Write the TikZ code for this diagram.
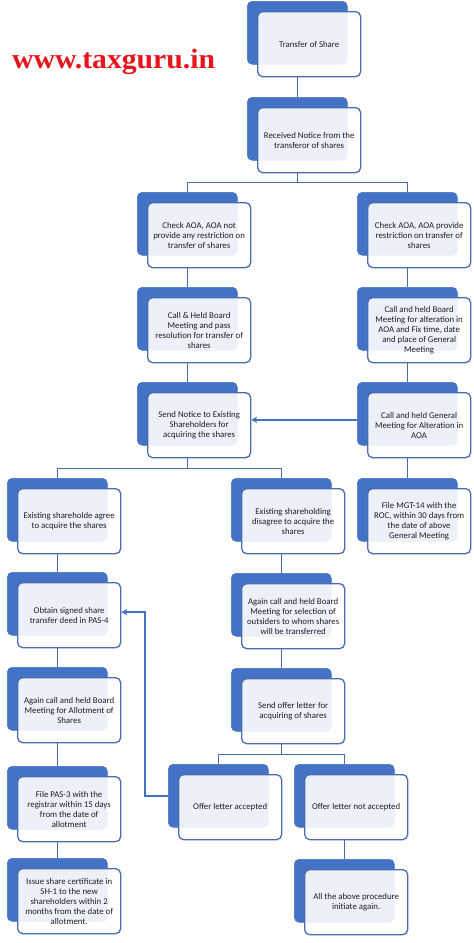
\documentclass[tikz,border=0pt]{standalone}
\usepackage{fontspec}
\setmainfont{Carlito}
\newfontfamily\wmfont{Liberation Serif}
\usetikzlibrary{arrows.meta,calc}
\definecolor{acc}{HTML}{4472C4}
\definecolor{accd}{HTML}{4A6DB0}
\definecolor{wmred}{HTML}{E8141C}
\definecolor{txt}{HTML}{1E1E1E}
\tikzset{
  backbox/.style={fill=acc, draw=acc, line width=0.6pt, rounded corners=5pt, minimum width=100pt, minimum height=63pt, inner sep=0pt, anchor=north west},
  frontbox/.style={fill=white, fill opacity=0.9, text opacity=1, draw=accd, line width=1.3pt, rounded corners=5pt, minimum width=103pt, minimum height=65pt, inner sep=0pt, anchor=north west, align=center, font=\fontsize{8.8}{10}\selectfont, text=txt},
  conn/.style={draw=accd, line width=1.4pt},
  arr/.style={draw=acc, line width=2.2pt, -{Stealth[length=6pt,width=6.5pt]}}
}
\newcommand{\stepnode}[4]{%
  \node[backbox] (#1b) at (#2,#3) {};
  \node[frontbox] (#1) at ($(#2,#3)+(10,10)$) {#4};
}
\begin{document}
\begin{tikzpicture}[x=1pt,y=-1pt]
\useasboundingbox (0,0) rectangle (474,943);

\node[anchor=base west, inner sep=0pt, text=wmred, font=\wmfont\bfseries\fontsize{28}{30}\selectfont, xscale=1.06] (wm) at (12,68) {www.taxguru.in};

\stepnode{na}{247}{1}{Transfer of Share}
\stepnode{nb}{247}{97}{Received Notice from the\\transferor of shares}
\stepnode{la}{137}{192}{Check AOA, AOA not\\provide any restriction on\\transfer of shares}
\stepnode{ra}{357}{192}{Check AOA, AOA provide\\restriction on transfer of\\shares}
\stepnode{lb}{137}{287}{Call \& Held Board\\Meeting and pass\\resolution for transfer of\\shares}
\stepnode{rb}{357}{287}{Call and held Board\\Meeting for alteration in\\AOA and Fix time, date\\and place of General\\Meeting}
\stepnode{lc}{137}{382}{Send Notice to Existing\\Shareholders for\\acquiring the shares}
\stepnode{rc}{357}{382}{Call and held General\\Meeting for Alteration in\\AOA}
\stepnode{ka}{7}{478}{Existing shareholde agree\\to acquire the shares}
\stepnode{ma}{231}{478}{Existing shareholding\\disagree to acquire the\\shares}
\stepnode{rd}{357}{478}{File MGT-14 with the\\ROC, within 30 days from\\the date of above\\General Meeting}
\stepnode{kb}{7}{572}{Obtain signed share\\transfer deed in PAS-4}
\stepnode{mb}{231}{573}{Again call and held Board\\Meeting for selection of\\outsiders to whom shares\\will be transferred}
\stepnode{kc}{7}{667}{Again call and held Board\\Meeting for Allotment of\\Shares}
\stepnode{mc}{231}{668}{Send offer letter for\\acquiring of shares}
\stepnode{kd}{7}{766}{File PAS-3 with the\\registrar within 15 days\\from the date of\\allotment}
\stepnode{oa}{168}{764}{Offer letter accepted}
\stepnode{ob}{294}{764}{Offer letter not accepted}
\stepnode{ke}{7}{858}{Issue share certificate in\\SH-1 to the new\\shareholders within 2\\months from the date of\\allotment.}
\stepnode{of}{294}{859}{All the above procedure\\initiate again.}

% connectors
\draw[conn] (nab.south |- na.south) -- (nbb.north);
\draw[conn] (nbb.south |- nb.south) -- ++(0,9) -| (lab.north);
\draw[conn] (nbb.south |- nb.south) -- ++(0,9) -| (rab.north);
\draw[conn] (lab.south |- la.south) -- (lbb.north);
\draw[conn] (lbb.south |- lb.south) -- (lcb.north);
\draw[conn] (rab.south |- ra.south) -- (rbb.north);
\draw[conn] (rbb.south |- rb.south) -- (rcb.north);
\draw[conn] (rcb.south |- rc.south) -- (rdb.north);
\draw[conn] (lcb.south |- lc.south) -- ++(0,10) -| (kab.north);
\draw[conn] (lcb.south |- lc.south) -- ++(0,10) -| (mab.north);
\draw[conn] (kab.south |- ka.south) -- (kbb.north);
\draw[conn] (kbb.south |- kb.south) -- (kcb.north);
\draw[conn] (kcb.south |- kc.south) -- (kdb.north);
\draw[conn] (kdb.south |- kd.south) -- (keb.north);
\draw[conn] (mab.south |- ma.south) -- (mbb.north);
\draw[conn] (mbb.south |- mb.south) -- (mcb.north);
\draw[conn] (mcb.south |- mc.south) -- ++(0,10) -| (oab.north);
\draw[conn] (mcb.south |- mc.south) -- ++(0,10) -| (obb.north);
\draw[conn] (obb.south |- ob.south) -- (ofb.north);

% arrows
\coordinate (a1) at ([yshift=-6pt]rcb.west);
\draw[arr] (a1) -- (a1 -| lc.east);
\coordinate (a2) at ([xshift=-23pt]oab.west);
\coordinate (t2) at ([yshift=3pt]kb.east);
\draw[arr] (oab.west) -- (a2) |- (t2);
\end{tikzpicture}
\end{document}
